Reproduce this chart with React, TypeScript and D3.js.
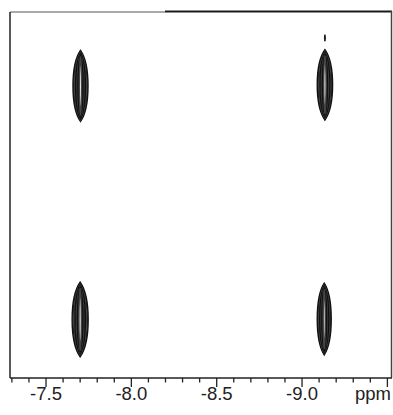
import React, { useEffect, useRef } from 'react';
import * as d3 from 'd3';

// F2 (horizontal) chemical shift axis, ppm
const f2Domain = [-7.289, -9.527];
const f2Ticks = [-7.3, -7.4, -7.5, -7.6, -7.7, -7.8, -7.9, -8.0, -8.1, -8.2, -8.3, -8.4, -8.5, -8.6, -8.7, -8.8, -8.9, -9.0, -9.1, -9.2, -9.3, -9.4, -9.5];
const f2Labels = ['-7.5', '-8.0', '-8.5', '-9.0'];
const unitLabel = 'ppm';

// F1 (vertical) axis, arbitrary units, not labelled in the figure
const f1Domain = [0, 100];

// cross peaks: position in f2 (ppm) and f1, half widths in both dimensions
const peakNames = ['A', 'B', 'C', 'D', 'n'];
const peakF2 = [-7.702, -9.134, -7.700, -9.130, -9.134];
const peakF1 = [20.2, 19.9, 84.0, 83.9, 7.1];
const peakWidthF2 = [0.044, 0.045, 0.047, 0.041, 0.003];
const peakWidthF1 = [9.7, 9.6, 10.2, 9.8, 0.9];

// contour levels relative to the outermost one
const contourLevels = [1, 0.88, 0.77, 0.66, 0.55, 0.45, 0.35, 0.25, 0.15];

export default function App() {
  const ref = useRef<SVGSVGElement>(null);

  useEffect(() => {
    const svg = d3.select(ref.current);
    svg.selectAll('*').remove();

    const left = 10, right = 392, top = 12, bottom = 378;
    const x = d3.scaleLinear().domain(f2Domain).range([left, right]);
    const y = d3.scaleLinear().domain(f1Domain).range([top, bottom]);

    // contours
    const g = svg.append('g');
    peakNames.forEach((name, i) => {
      const levels = name === 'n' ? [1] : contourLevels;
      levels.forEach((lv, k) => {
        const cx = x(peakF2[i]);
        const cy = y(peakF1[i]);
        const w = Math.abs(x(peakF2[i] + peakWidthF2[i] * lv) - cx);
        const h = Math.abs(y(peakF1[i] + peakWidthF1[i] * (0.8 + 0.2 * lv)) - cy);
        const kx = (4 / 3) * w;
        const p = d3.path();
        p.moveTo(cx, cy - h);
        p.bezierCurveTo(cx + kx, cy - h * 0.6, cx + kx, cy + h * 0.6, cx, cy + h);
        p.bezierCurveTo(cx - kx, cy + h * 0.6, cx - kx, cy - h * 0.6, cx, cy - h);
        p.closePath();
        g.append('path')
          .attr('d', p.toString())
          .attr('fill', 'none')
          .attr('stroke', k % 3 === 2 ? '#444' : '#111')
          .attr('stroke-width', name === 'n' ? 1 : 1.4);
      });
    });

    // frame
    svg.append('line').attr('x1', left).attr('x2', 165).attr('y1', top).attr('y2', top)
      .attr('stroke', '#555').attr('stroke-width', 1.2);
    svg.append('line').attr('x1', 165).attr('x2', right).attr('y1', top - 0.5).attr('y2', top - 0.5)
      .attr('stroke', '#1a1a1a').attr('stroke-width', 2.2);
    svg.append('line').attr('x1', left).attr('x2', left).attr('y1', top).attr('y2', bottom)
      .attr('stroke', '#222').attr('stroke-width', 1.5);
    svg.append('line').attr('x1', right - 0.5).attr('x2', right - 0.5).attr('y1', top - 1).attr('y2', bottom)
      .attr('stroke', '#444').attr('stroke-width', 1.5);

    // bottom axis
    const axis = svg.append('g').attr('transform', `translate(0, ${bottom})`);
    axis.append('line').attr('x1', left).attr('x2', right).attr('y1', 0).attr('y2', 0)
      .attr('stroke', '#222').attr('stroke-width', 1.5);
    f2Ticks.forEach(t => {
      const major = Math.abs(t * 2 - Math.round(t * 2)) < 1e-6;
      axis.append('line')
        .attr('x1', x(t)).attr('x2', x(t))
        .attr('y1', 0).attr('y2', major ? 9 : 4.5)
        .attr('stroke', '#222').attr('stroke-width', 1.3);
    });
    f2Labels.forEach(l => {
      axis.append('text')
        .attr('x', x(+l))
        .attr('y', 22)
        .attr('text-anchor', 'middle')
        .attr('font-family', '"Liberation Sans", Arial, sans-serif')
        .attr('font-size', 18.5)
        .attr('fill', '#222')
        .text(l);
    });
    axis.append('text')
      .attr('x', right - 1)
      .attr('y', 22)
      .attr('text-anchor', 'end')
      .attr('font-family', '"Liberation Sans", Arial, sans-serif')
      .attr('font-size', 18.5)
      .attr('fill', '#222')
      .text(unitLabel);
  }, []);

  return (
    <svg ref={ref} width={393} height={415}
      style={{ position: 'absolute', left: 0, top: 0, background: '#fff' }} />
  );
}
